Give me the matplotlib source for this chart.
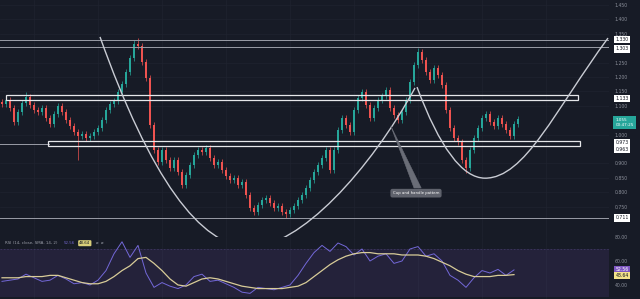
import matplotlib
matplotlib.use('Agg')
import matplotlib.pyplot as plt
from matplotlib.path import Path
from matplotlib.patches import PathPatch, Rectangle, Polygon
from matplotlib.transforms import blended_transform_factory

# ---------------- data ----------------
closes = [1.106, 1.120, 1.092, 1.044, 1.078, 1.110, 1.130, 1.103, 1.085, 1.078,
          1.092, 1.058, 1.037, 1.071, 1.099, 1.078, 1.051, 1.030, 1.009, 0.995,
          1.002, 0.988, 0.995, 1.009, 1.023, 1.051, 1.085, 1.106, 1.117, 1.148,
          1.176, 1.217, 1.266, 1.314, 1.307, 1.252, 1.196, 1.033, 0.947, 0.905,
          0.947, 0.912, 0.884, 0.912, 0.870, 0.825, 0.860, 0.894, 0.929, 0.947,
          0.940, 0.953, 0.919, 0.894, 0.905, 0.877, 0.856, 0.842, 0.849, 0.825,
          0.835, 0.790, 0.745, 0.731, 0.756, 0.773, 0.780, 0.763, 0.745, 0.752,
          0.731, 0.724, 0.738, 0.752, 0.773, 0.790, 0.815, 0.842, 0.870, 0.894,
          0.919, 0.947, 0.877, 0.947, 1.016, 1.058, 1.033, 1.009, 1.085, 1.127,
          1.148, 1.103, 1.058, 1.092, 1.120, 1.134, 1.155, 1.092, 1.068, 1.051,
          1.078, 1.120, 1.182, 1.241, 1.287, 1.259, 1.217, 1.189, 1.231, 1.207,
          1.172, 1.085, 1.023, 0.988, 0.974, 0.912, 0.884, 0.947, 0.988, 1.023,
          1.058, 1.071, 1.044, 1.030, 1.058, 1.037, 1.016, 0.995, 1.037, 1.055]
first_open = 1.112
wick = 0.010
long_highs = {6: 1.148, 33: 1.330, 34: 1.336, 104: 1.300, 29: 1.16}
long_lows = {19: 0.912, 71: 0.712, 116: 0.868, 45: 0.815}

rsi_step = 2
rsi_vals = [43, 44, 45, 49, 46, 43, 44, 48, 45, 41, 42, 40, 44, 52, 66, 76,
            63, 73, 50, 38, 42, 39, 37, 40, 47, 49, 43, 44, 41, 38, 34, 33,
            38, 37, 36, 38, 40, 48, 58, 67, 73, 68, 75, 72, 65, 70, 60, 64,
            66, 58, 60, 70, 72, 64, 66, 60, 48, 44, 38, 46, 52, 50, 53, 48, 52.56]
rsi_ma = [46, 46, 46, 47, 47, 47, 48, 48, 46, 44, 42, 41, 41, 43, 47, 52,
          56, 62, 63, 58, 52, 45, 40, 39, 42, 45, 46, 45, 43, 41, 39, 38,
          37, 37, 37, 37, 38, 39, 42, 47, 52, 57, 61, 64, 66, 67, 67, 66,
          66, 66, 65, 65, 65, 64, 62, 59, 56, 52, 49, 47, 47, 47, 48, 48, 48.64]

price_ticks = [1.45, 1.40, 1.35, 1.25, 1.20, 1.15, 1.10, 1.00, 0.90, 0.85, 0.80, 0.75]
rsi_ticks = [80, 60, 40]
level_lines = [1.330, 1.303, 0.711]
level_labels = ["1.330", "1.303", "0.711"]
zone_high = (1.121, 1.139)
zone_low = (0.961, 0.978)
zone_low_line = 0.969
zone_labels = [("1.133", 1.133), ("0.973", 0.973), ("0.963", 0.963)]
last_price_label = "1.055\n00:47:25"
rsi_title = "RSI (14, close, SMA, 14, 2)"
annotation_text = "Cup and handle pattern"

# drawn arcs: anchor points (candle index, price)
cup_left = [(24.5, 1.339), (43.25, 0.610), (62.0, 0.610)]
cup_right = [(62.0, 0.610), (74.5, 0.610), (92.0, 0.877), (103.25, 1.162)]
handle_left = [(103.75, 1.165), (112.25, 0.849), (120.75, 0.849)]
handle_right = [(120.75, 0.849), (130.75, 0.849), (138.25, 1.085), (151.5, 1.335)]
pointer = [(97.2, 1.030), (103.0, 0.815), (104.8, 0.815)]
label_pos = (103.5, 0.797)

# ---------------- style ----------------
BG = '#171b26'
UP = '#26a69a'
DN = '#ef5350'
TXT = '#8b8f9a'
LINE = '#c9ccd4'

fig = plt.figure(figsize=(6.4, 2.99), dpi=100, facecolor=BG)
H = 299.0
split = 237.0
right = 609 / 640
ax = fig.add_axes([0, 1 - split / H, right, split / H])
axr = fig.add_axes([0, 0, right, 1 - split / H])
for a in (ax, axr):
    a.set_facecolor(BG)
    for s in a.spines.values():
        s.set_visible(False)
    a.tick_params(axis='x', bottom=False, labelbottom=False)
    a.yaxis.tick_right()
    a.tick_params(axis='y', length=0, pad=4, labelsize=3.3, labelcolor=TXT)

n = len(closes)
ax.set_xlim(-0.5, 151.75)
ax.set_ylim(0.645, 1.467)
axr.set_xlim(-0.5, 151.75)
axr.set_ylim(28.3, 80.0)

# faint grid
for gx in range(8, 150, 16):
    ax.axvline(gx, color='#1f2330', lw=0.5, zorder=0)
    axr.axvline(gx, color='#1f2330', lw=0.5, zorder=0)
for gy in price_ticks:
    ax.axhline(gy, color='#1f2330', lw=0.5, zorder=0)

# candles
opens = [first_open] + closes[:-1]
for i, (o, c) in enumerate(zip(opens, closes)):
    col = UP if c >= o else DN
    hi = long_highs.get(i, max(o, c) + wick)
    lo = long_lows.get(i, min(o, c) - wick)
    ax.vlines(i, lo, hi, color=col, lw=0.5, zorder=2)
    body = max(abs(c - o), 0.003)
    ax.add_patch(Rectangle((i - 0.3, min(o, c)), 0.6, body, fc=col, ec='none', zorder=3))

# levels
for lv in level_lines:
    ax.axhline(lv, color='#9a9da6', lw=0.7, zorder=4)
ax.axhline(zone_low_line, xmin=0, xmax=0.08, color='#9a9da6', lw=0.7, zorder=4)
ax.add_patch(Rectangle((1.0, zone_high[0]), 143.0, zone_high[1] - zone_high[0],
                       fc='none', ec='#e6e7ea', lw=0.9, zorder=4))
ax.add_patch(Rectangle((11.5, zone_low[0]), 133.0, zone_low[1] - zone_low[0],
                       fc='none', ec='#e6e7ea', lw=0.9, zorder=4))

# arcs
def curve(points, lw=1.0):
    codes = [Path.MOVETO] + ([Path.CURVE3] * 2 if len(points) == 3 else [Path.CURVE4] * 3)
    ax.add_patch(PathPatch(Path(points, codes), fc='none', ec=LINE, lw=lw, zorder=5))

curve(cup_left)
curve(cup_right)
curve(handle_left)
curve(handle_right)

# callout
ax.add_patch(Polygon(pointer, closed=True, fc='#6a6d77', ec='#6a6d77', lw=0.4, zorder=5))
ax.text(label_pos[0], label_pos[1], annotation_text, fontsize=2.8, color='white',
        ha='center', va='center', zorder=6,
        bbox=dict(boxstyle='round,pad=0.6,rounding_size=0.5', fc='#5f626c', ec='none'))

# price axis
ax.set_yticks(price_ticks)
ax.set_yticklabels([f"{t:.3f}" for t in price_ticks])
tr = blended_transform_factory(ax.transAxes, ax.transData)
box = dict(boxstyle='square,pad=0.25', fc='white', ec='none')
ax.annotate(level_labels[0], xy=(1.0, level_lines[0]), xycoords=tr, xytext=(4.5, 0),
            textcoords='offset points', fontsize=3.3, color='#131722', va='center', ha='left',
            bbox=box, zorder=8, annotation_clip=False)
ax.annotate(level_labels[1], xy=(1.0, level_lines[1]), xycoords=tr, xytext=(4.5, -1.2),
            textcoords='offset points', fontsize=3.3, color='#131722', va='center', ha='left',
            bbox=box, zorder=8, annotation_clip=False)
ax.annotate(level_labels[2], xy=(1.0, level_lines[2]), xycoords=tr, xytext=(4.5, 0),
            textcoords='offset points', fontsize=3.3, color='#131722', va='center', ha='left',
            bbox=box, zorder=8, annotation_clip=False)
offs = [-1.5, 0, -3.0]
for (lab, val), dy in zip(zone_labels, offs):
    ax.annotate(lab, xy=(1.0, val), xycoords=tr, xytext=(4.5, dy),
                textcoords='offset points', fontsize=3.3, color='#131722', va='center', ha='left',
                bbox=box, zorder=8, annotation_clip=False)
ax.annotate(last_price_label, xy=(1.0, closes[-1]), xycoords=tr, xytext=(4.5, -2.5),
            textcoords='offset points', fontsize=3.0, color='white', va='center', ha='left',
            linespacing=1.3,
            bbox=dict(boxstyle='square,pad=0.45', fc=UP, ec='none'), zorder=8,
            annotation_clip=False)

# RSI pane
axr.fill_between([-0.5, 151.75], 30, 70, color='#7e57c2', alpha=0.13, lw=0, zorder=0)
axr.axhline(70, color='#4a3f73', lw=0.4, ls=(0, (3, 3)), zorder=1)
rx = [i * rsi_step for i in range(len(rsi_vals))]
axr.plot(rx, rsi_vals, color='#7368d8', lw=0.7, zorder=3)
axr.plot(rx, rsi_ma, color='#d8cc98', lw=0.9, zorder=4)
axr.set_yticks(rsi_ticks)
axr.set_yticklabels([f"{t:.2f}" for t in rsi_ticks])
trr = blended_transform_factory(axr.transAxes, axr.transData)
axr.annotate(f"{rsi_vals[-1]:.2f}", xy=(1.0, rsi_vals[-1]), xycoords=trr, xytext=(4.5, 0.5),
             textcoords='offset points', fontsize=3.3, color='white', va='center', ha='left',
             bbox=dict(boxstyle='square,pad=0.25', fc='#7e57c2', ec='none'), zorder=8,
             annotation_clip=False)
axr.annotate(f"{rsi_ma[-1]:.2f}", xy=(1.0, rsi_ma[-1]), xycoords=trr, xytext=(4.5, -0.5),
             textcoords='offset points', fontsize=3.3, color='#131722', va='center', ha='left',
             bbox=dict(boxstyle='square,pad=0.25', fc='#f3e38a', ec='none'), zorder=8,
             annotation_clip=False)

# RSI title
axr.text(0.008, 0.9, rsi_title, transform=axr.transAxes, fontsize=2.9, color='#9a9ea8',
         ha='left', va='center', zorder=6)
axr.text(0.104, 0.9, f"{rsi_vals[-1]:.2f}", transform=axr.transAxes, fontsize=2.9,
         color='#6f64c8', ha='left', va='center', zorder=6)
axr.text(0.13, 0.9, f"{rsi_ma[-1]:.2f}", transform=axr.transAxes, fontsize=2.9,
         color='#131722', ha='left', va='center', zorder=6,
         bbox=dict(boxstyle='round,pad=0.25', fc='#d9cf7a', ec='none'))
axr.text(0.158, 0.9, "\u00f8  \u00f8", transform=axr.transAxes, fontsize=2.9,
         color='#9a9ea8', ha='left', va='center', zorder=6)

fig.savefig('out.png', dpi=100, facecolor=BG)
